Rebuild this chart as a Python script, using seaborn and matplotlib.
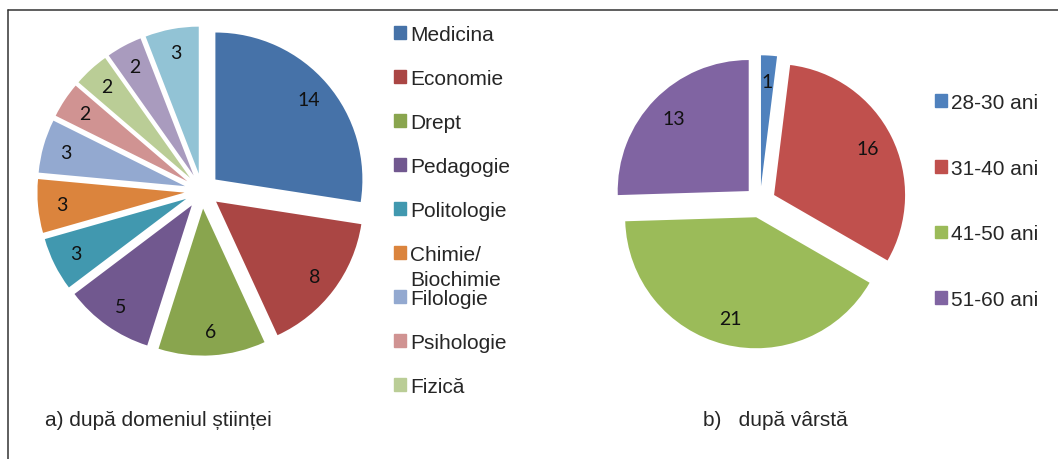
import matplotlib
matplotlib.use("Agg")
import matplotlib.pyplot as plt
from matplotlib.lines import Line2D
from matplotlib.patches import Patch
import seaborn as sns

# %%
# data
domenii = ['Medicina', 'Economie', 'Drept', 'Pedagogie', 'Politologie',
           'Chimie/', 'Filologie', 'Psihologie', 'Fizică',
           'Alte 1', 'Alte 2']  # last two are cut off from the legend in the original
domenii_n = [14, 8, 6, 5, 3, 3, 3, 2, 2, 2, 3]
domenii_colors = ['#4672A8', '#AA4644', '#89A54E', '#71588F', '#4198AF', '#DB843D',
                  '#93A9D0', '#D09392', '#BACD96', '#A99BBE', '#92C3D5']
n_legend_left = 9

varsta = ['28-30 ani', '31-40 ani', '41-50 ani', '51-60 ani']
varsta_n = [1, 16, 21, 13]
varsta_colors = ['#4F81BD', '#C0504D', '#9BBB59', '#8064A2']

caption_a = 'a) după domeniul științei'
caption_b = 'b)   după vârstă'

# %%
sns.set_theme(style='white')
plt.rcParams['font.family'] = ['Liberation Sans', 'DejaVu Sans']

W, H = 1058, 460
fig = plt.figure(figsize=(W / 100, H / 100), dpi=100)


def fx(px):
    return px / W


def fy(px):
    return 1 - px / H


def count_fmt(values):
    total = sum(values)
    return lambda p: f'{round(p * total / 100)}'


def draw_pie(rect, values, colors, pctdist):
    ax = fig.add_axes(rect)
    wedges, _, autotexts = ax.pie(values, colors=colors, startangle=90, counterclock=False,
                                  explode=[0.12] * len(values), autopct=count_fmt(values),
                                  pctdistance=pctdist, wedgeprops=dict(linewidth=0))
    for t in autotexts:
        t.set_fontfamily('Lato')
        t.set_fontsize(14)
        t.set_color('#111111')
    ax.set_xlim(-1.2, 1.2)
    ax.set_ylim(-1.2, 1.2)
    ax.set_aspect('equal')
    ax.axis('off')
    return ax, wedges


# left pie: centre ~(202,192) px, radius ~147 px
S1 = 2.4 * 147
ax1, w1 = draw_pie([fx(202 - S1 / 2), fy(192 + S1 / 2), S1 / W, S1 / H],
                   domenii_n, domenii_colors, 0.84)

# right pie: centre ~(760,203) px, radius ~131 px
S2 = 2.4 * 131
ax2, w2 = draw_pie([fx(760 - S2 / 2), fy(203 + S2 / 2), S2 / W, S2 / H],
                   varsta_n, varsta_colors, 0.8)

# %%
# legends
leg_kw = dict(frameon=False, fontsize=15, handlelength=0.58, handleheight=0.58,
              handletextpad=0.2, borderpad=0, borderaxespad=0, loc='upper left')

h1 = [Patch(color=c) for c in domenii_colors[:n_legend_left]]
leg1 = fig.legend(h1, domenii[:n_legend_left], bbox_to_anchor=(fx(394), fy(26)),
                  labelspacing=1.2, **leg_kw)

h2 = [Patch(color=c) for c in varsta_colors]
leg2 = fig.legend(h2, varsta, bbox_to_anchor=(fx(935), fy(94)),
                  labelspacing=2.24, **leg_kw)

# second line of "Chimie/Biochimie" overflows into the next row, as in the original
fig.canvas.draw()
chimie = leg1.get_texts()[domenii.index('Chimie/')]
bb = chimie.get_window_extent()
fig.text(bb.x0 / W, (bb.y0 - 25) / H, 'Biochimie', fontsize=15, va='bottom', ha='left')

# captions
fig.text(fx(45), fy(421), caption_a, fontsize=15, va='center', ha='left')
fig.text(fx(703), fy(421), caption_b, fontsize=15, va='center', ha='left')

# frame (top and left edges are visible in the original crop)
fig.add_artist(Line2D([fx(8), 1], [fy(11), fy(11)], transform=fig.transFigure,
                      color='#333333', lw=1.1))
fig.add_artist(Line2D([fx(8), fx(8)], [fy(11), 0], transform=fig.transFigure,
                      color='#333333', lw=1.1))

fig.savefig('out.png', dpi=100, facecolor='white')
